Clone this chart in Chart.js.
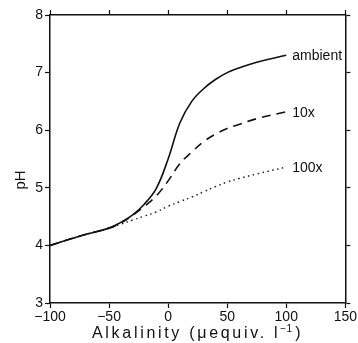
<!DOCTYPE html>
<html>
<head>
<meta charset="utf-8">
<script src="https://cdn.jsdelivr.net/npm/chart.js@4"></script>
<style>
  html, body { margin: 0; padding: 0; background: #fff; }
  #wrap { width: 358px; height: 343px; }
</style>
</head>
<body>
<div id="wrap"><canvas id="phChart" width="358" height="343"></canvas></div>
<script>
// alkalinity (uequiv/l) sample points
const alkalinity = [-100, -75, -50, -40, -30, -20, -10, 0, 10, 20, 30, 40, 50, 60, 75, 100];
// pH
const phAmbient = [4.0, 4.16, 4.3, 4.4, 4.53, 4.72, 4.99, 5.5, 6.13, 6.5, 6.72, 6.88, 7.0, 7.08, 7.18, 7.3];
const ph10x     = [4.0, 4.16, 4.3, 4.39, 4.52, 4.68, 4.86, 5.12, 5.42, 5.62, 5.8, 5.93, 6.03, 6.1, 6.2, 6.32];
const ph100x    = [4.0, 4.16, 4.3, 4.37, 4.44, 4.51, 4.58, 4.68, 4.76, 4.84, 4.93, 5.02, 5.1, 5.16, 5.24, 5.36];
const seriesLabels = ["ambient", "10x", "100x"];
const xTicks = [-100, -50, 0, 50, 100, 150];
const yTicks = [3, 4, 5, 6, 7, 8];

function points(ys) {
  return alkalinity.map((x, i) => ({ x: x, y: ys[i] }));
}

const FONT = "'Liberation Sans', Arial, Helvetica, sans-serif";

const curveLabels = {
  id: "curveLabels",
  afterDatasetsDraw(chart) {
    const ctx = chart.ctx;
    ctx.save();
    ctx.fillStyle = "#111";
    ctx.font = "14px " + FONT;
    ctx.textBaseline = "middle";
    chart.data.datasets.forEach((ds, i) => {
      const last = ds.data[ds.data.length - 1];
      const px = chart.scales.x.getPixelForValue(last.x);
      const py = chart.scales.y.getPixelForValue(last.y);
      ctx.fillText(seriesLabels[i], px + 6, py + 1);
    });
    ctx.restore();
  },
  afterDraw(chart) {
    const ctx = chart.ctx;
    ctx.save();
    ctx.fillStyle = "#111";
    // x axis title, spread out like the original
    const main = "Alkalinity (\u03bcequiv. l";
    const sup = "\u22121";
    const close = ")";
    ctx.textBaseline = "middle";
    ctx.letterSpacing = "0px";
    ctx.font = "16px " + FONT;
    const raw = ctx.measureText(main).width + ctx.measureText(close).width;
    ctx.font = "10px " + FONT;
    const rawSup = ctx.measureText(sup).width;
    const gap = (213 - raw - rawSup) / (main.length + sup.length + close.length);
    ctx.letterSpacing = gap + "px";
    let x = 92;
    ctx.font = "16px " + FONT;
    ctx.fillText(main, x, 334);
    x += ctx.measureText(main).width;
    ctx.font = "10px " + FONT;
    ctx.letterSpacing = "0.5px";
    ctx.fillText(sup, x, 329);
    x += ctx.measureText(sup).width + gap;
    ctx.font = "16px " + FONT;
    ctx.fillText(close, x, 334);
    ctx.letterSpacing = "0px";
    // y axis title
    ctx.translate(21, 180);
    ctx.rotate(-Math.PI / 2);
    ctx.textAlign = "center";
    ctx.font = "15px " + FONT;
    ctx.fillText("pH", 0, 0);
    ctx.restore();
  }
};

const gridOpts = { drawOnChartArea: false, drawTicks: true, tickLength: 5, tickWidth: 1.2, color: "#111" };
const borderOpts = { display: true, color: "#111", width: 1.5 };

new Chart(document.getElementById("phChart"), {
  type: "line",
  data: {
    datasets: [
      {
        label: seriesLabels[0],
        data: points(phAmbient),
        borderColor: "#111",
        borderWidth: 1.6,
        tension: 0.4,
        pointRadius: 0
      },
      {
        label: seriesLabels[1],
        data: points(ph10x),
        borderColor: "#111",
        borderWidth: 1.6,
        borderDash: [9, 6],
        tension: 0.4,
        pointRadius: 0
      },
      {
        label: seriesLabels[2],
        data: points(ph100x),
        borderColor: "#222",
        borderWidth: 1.5,
        borderDash: [1.5, 3.5],
        tension: 0.4,
        pointRadius: 0
      }
    ]
  },
  options: {
    responsive: false,
    animation: false,
    layout: { padding: 0 },
    plugins: { legend: { display: false }, tooltip: { enabled: false } },
    scales: {
      x: {
        type: "linear",
        position: "bottom",
        min: -100,
        max: 150,
        afterBuildTicks: s => { s.ticks = xTicks.map(v => ({ value: v })); },
        afterFit: s => { s.height = 40; },
        grid: gridOpts,
        border: borderOpts,
        ticks: {
          color: "#111",
          padding: 1,
          maxRotation: 0,
          font: { family: FONT, size: 14 },
          callback: v => String(v).replace("-", "\u2212")
        }
      },
      xTop: {
        type: "linear",
        position: "top",
        min: -100,
        max: 150,
        afterBuildTicks: s => { s.ticks = xTicks.map(v => ({ value: v })); },
        afterFit: s => { s.height = 15; },
        grid: gridOpts,
        border: borderOpts,
        ticks: { display: false }
      },
      y: {
        type: "linear",
        position: "left",
        min: 3,
        max: 8,
        afterBuildTicks: s => { s.ticks = yTicks.map(v => ({ value: v })); },
        afterFit: s => { s.width = 50; },
        grid: gridOpts,
        border: borderOpts,
        ticks: { color: "#111", padding: 2, font: { family: FONT, size: 14 } }
      },
      yRight: {
        type: "linear",
        position: "right",
        min: 3,
        max: 8,
        afterBuildTicks: s => { s.ticks = yTicks.map(v => ({ value: v })); },
        afterFit: s => { s.width = 11; },
        grid: gridOpts,
        border: borderOpts,
        ticks: { display: false }
      }
    }
  },
  plugins: [curveLabels]
});
</script>
</body>
</html>
